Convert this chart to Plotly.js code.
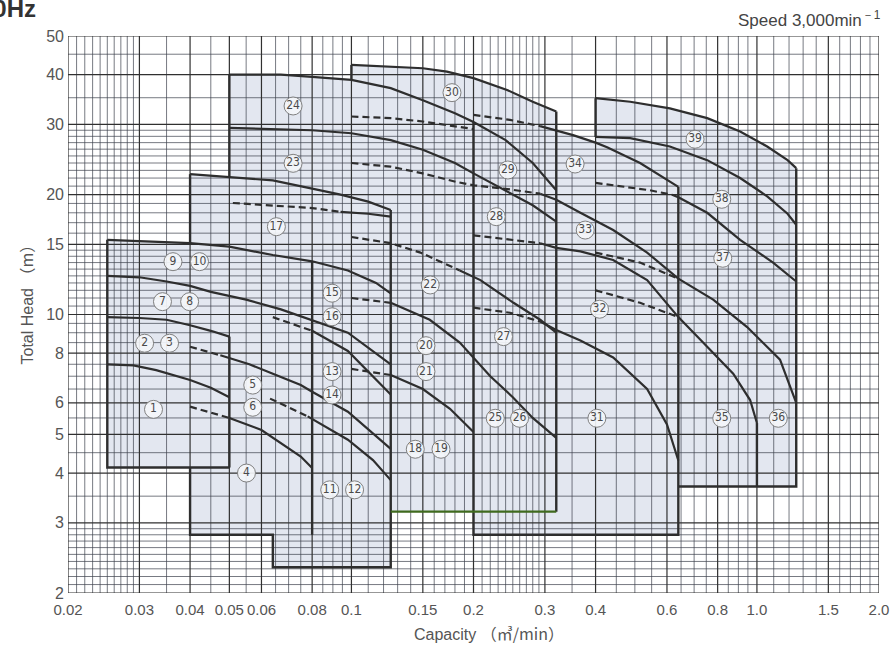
<!DOCTYPE html>
<html><head><meta charset="utf-8">
<script src="https://cdn.plot.ly/plotly-3.0.1.min.js"></script>
<style>html,body{margin:0;padding:0;background:#fff}#chart{width:891px;height:647px}</style>
</head><body><div id="chart"></div>
<script>
// ---------- axis ticks ----------
const xTickVals = [0.02,0.03,0.04,0.05,0.06,0.08,0.1,0.15,0.2,0.3,0.4,0.6,0.8,1.0,1.5,2.0];
const xTickText = ["0.02","0.03","0.04","0.05","0.06","0.08","0.1","0.15","0.2","0.3","0.4","0.6","0.8","1.0","1.5","2.0"];
const yTickVals = [2,3,4,5,6,8,10,15,20,30,40,50];
const yTickText = ["2","3","4","5","6","8","10","15","20","30","40","50"];
// ---------- log-paper grid ----------
const gridXMinor = [0.021,0.022,0.023,0.024,0.025,0.026,0.027,0.028,0.029,0.035,0.045,0.055,0.065,0.07,0.075,0.085,0.09,0.095,
  0.11,0.12,0.13,0.14,0.16,0.17,0.18,0.19,0.21,0.22,0.23,0.24,0.25,0.26,0.27,0.28,0.29,0.35,0.45,0.5,0.55,0.65,0.7,0.75,0.85,0.9,0.95,
  1.1,1.2,1.3,1.4,1.6,1.7,1.8,1.9];
const gridYMinor = [2.1,2.2,2.3,2.4,2.5,2.6,2.7,2.8,2.9,3.5,4.5,5.5,6.5,7,7.5,8.5,9,9.5,10.5,11,11.5,12,12.5,13,13.5,14,14.5,
  16,17,18,19,21,22,23,24,25,26,27,28,29,35,45];

// ---------- pump curves (capacity m3/min, head m) ----------
const t1Q = [0.025,0.04,0.05,0.064,0.08,0.098,0.115,0.125];
const t1H = [15.4,15.1,14.8,14.1,13.6,12.9,12.0,11.3];
const c78Q = [0.025,0.03,0.035,0.04,0.045,0.055,0.067,0.075,0.08,0.098,0.125];
const c78H = [12.5,12.4,12.1,11.8,11.4,10.9,10.3,9.9,9.7,9.0,7.5];
const c2Q = [0.025,0.03,0.035,0.04,0.045,0.05];
const c2H = [9.85,9.8,9.7,9.4,9.1,8.8];
const c1Q = [0.025,0.029,0.033,0.04,0.045,0.05];
const c1H = [7.5,7.45,7.25,6.85,6.55,6.2];
const d1Q = [0.04,0.05];
const d1H = [5.87,5.5];
const c4Q = [0.05,0.06,0.075,0.08];
const c4H = [5.5,5.13,4.4,4.12];
const d2Q = [0.04,0.0475];
const d2H = [8.3,7.9];
const c5Q = [0.0475,0.056,0.064,0.075,0.08,0.098,0.125];
const c5H = [7.9,7.5,7.1,6.65,6.4,5.7,4.6];
const d16Q = [0.064,0.08];
const d16H = [9.85,9.1];
const c16Q = [0.08,0.098,0.125];
const c16H = [9.1,8.1,6.3];
const d14Q = [0.063,0.078];
const d14H = [6.15,5.55];
const c14Q = [0.078,0.098,0.113,0.125];
const c14H = [5.55,4.85,4.31,3.84];
const r17Q = [0.04,0.05,0.064,0.08,0.094,0.11,0.125];
const r17H = [22.5,22.1,21.7,20.7,20.0,19.2,18.3];
const d17Q = [0.051,0.064,0.08,0.094];
const d17H = [19.05,18.8,18.5,18.1];
const c17Q = [0.094,0.11,0.125];
const c17H = [18.1,17.9,17.6];
const aQ = [0.05,0.067,0.08,0.1,0.125,0.15,0.18,0.2,0.24,0.28,0.32];
const aH = [40,40,39.5,38.8,37,34.5,32,30.4,27.4,24,20.5];
const bQ = [0.05,0.08,0.1,0.125,0.15,0.18,0.2,0.24,0.28,0.32];
const bH = [29.4,29.0,28.5,27.4,25.9,24.0,22.6,20.5,18.8,17.1];
const t30Q = [0.1,0.125,0.15,0.172,0.2,0.242,0.28,0.32];
const t30H = [42.3,41.9,41.5,40.7,39.2,36.6,34.2,32.3];
const d30Q = [0.1,0.125,0.15,0.172,0.2];
const d30H = [31.4,31.1,30.5,29.9,29.2];
const d34Q = [0.2,0.246,0.292];
const d34H = [31.7,30.8,29.7];
const c34Q = [0.292,0.32,0.352,0.4,0.427,0.515,0.64];
const c34H = [29.7,29.0,28.2,27.0,26.3,24.0,20.9];
const d33Q = [0.1,0.125,0.15,0.182,0.2,0.246,0.292];
const d33H = [24.0,23.5,22.6,21.5,21.1,20.6,20.1];
const c33Q = [0.292,0.32,0.367,0.442,0.536,0.64,0.78,0.946,1.14,1.25];
const c33H = [20.1,19.4,18.0,16.3,14.3,12.3,10.9,9.3,7.7,6.0];
const d36Q = [0.4,0.515,0.64];
const d36H = [14.3,13.5,12.3];
const d32Q = [0.2,0.246,0.292];
const d32H = [15.8,15.4,15.1];
const c32Q = [0.292,0.32,0.367,0.442,0.536,0.64,0.754,0.874,0.962,1.0];
const c32H = [15.1,14.7,14.4,13.7,12.2,9.85,8.3,7.1,6.1,5.34];
const d35Q = [0.4,0.515,0.64];
const d35H = [11.5,10.7,9.85];
const d37Q = [0.4,0.545,0.62,0.64];
const d37H = [21.4,20.5,19.95,19.7];
const c37Q = [0.64,0.754,0.909,1.096,1.25];
const c37H = [19.7,18.0,15.4,13.5,12.1];
const c38Q = [0.4,0.487,0.61,0.754,0.909,1.06,1.19,1.25];
const c38H = [27.9,27.7,26.4,24.4,22.0,19.8,17.9,16.8];
const t39Q = [0.4,0.487,0.61,0.754,0.909,1.06,1.19,1.25];
const t39H = [34.9,34.2,32.9,31.1,28.8,26.4,24.4,23.3];
const d31Q = [0.2,0.246,0.292];
const d31H = [10.4,10.1,9.6];
const c31Q = [0.292,0.32,0.367,0.442,0.536,0.6,0.64];
const c31H = [9.6,9.14,8.6,7.8,6.5,5.3,4.3];
const d22Q = [0.1,0.125,0.148,0.162,0.185];
const d22H = [15.65,15.1,14.3,13.7,12.9];
const c22Q = [0.185,0.208,0.251,0.292,0.32];
const c22H = [12.9,12.2,10.7,9.7,9.0];
const d20Q = [0.1,0.125];
const d20H = [11.0,10.7];
const c20Q = [0.125,0.156,0.185,0.2,0.22,0.25,0.28,0.32];
const c20H = [10.7,9.7,8.5,7.8,7.0,6.2,5.5,4.9];
const d21Q = [0.1,0.125];
const d21H = [7.3,7.05];
const c21Q = [0.125,0.15,0.175,0.2];
const c21H = [7.05,6.5,5.8,5.07];

// region outlines (capacity, head), null separates pieces
const edgeQ = [0.05,0.025,0.025,null, 0.04,0.04,null, 0.05,0.05,null, 0.1,0.1,null, 0.32,0.32,null, 0.4,0.4,null,
  0.64,1.25,1.25,null, 0.64,0.64,0.2,0.2,null, 0.125,0.125,0.064,0.064,0.04,0.04,null, 0.05,0.05,null, 0.08,0.08,null, 1.0,1.0];
const edgeH = [4.13,4.13,15.4,null, 15.1,22.5,null, 22.1,40,null, 38.8,42.3,null, 32.3,3.2,null, 27.9,34.9,null,
  3.7,3.7,23.3,null, 20.9,2.8,2.8,30.4,null, 18.3,2.32,2.32,2.8,2.8,4.13,null, 4.13,8.8,null, 2.8,13.6,null, 3.7,5.34];
const greenQ = [0.125,0.32];
const greenH = [3.2,3.2];

// model number labels
const labText = ["1","2","3","4","5","6","7","8","9","10","11","12","13","14","15","16","17","18","19","20",
  "21","22","23","24","25","26","27","28","29","30","31","32","33","34","35","36","37","38","39"];
const labQ = [0.0325,0.0309,0.0356,0.0551,0.0571,0.0571,0.0342,0.0399,0.0363,0.0422,0.0884,0.1018,0.0896,0.0896,0.0896,0.0896,0.0653,0.1437,0.1663,0.1527,
  0.1527,0.1564,0.0718,0.0718,0.2263,0.2598,0.2372,0.2276,0.2431,0.177,0.403,0.409,0.3772,0.3561,0.819,1.129,0.8237,0.819,0.7037];
const labH = [5.78,8.47,8.47,4.0,6.65,5.85,10.77,10.77,13.57,13.57,3.63,3.63,7.19,6.28,11.31,9.87,16.61,4.59,4.59,8.35,
  7.19,11.86,23.96,33.37,5.49,5.49,8.8,17.6,23.05,36.04,5.49,10.31,16.29,23.86,5.49,5.49,13.84,19.46,27.53];

// ---------- build traces ----------
const FILL = '#e3e7f0';
const INK = '#2e2e2e';
const traces = [];
function poly(q,h){ traces.push({x:q,y:h,type:'scatter',mode:'lines',fill:'toself',fillcolor:FILL,line:{width:0},hoverinfo:'skip',showlegend:false}); }
function seg(q,h,dash,color,w){ traces.push({x:q,y:h,type:'scatter',mode:'lines',line:{color:color||INK,width:w||2.2,dash:dash||'solid'},hoverinfo:'skip',showlegend:false}); }
function pick(q,h,lo,hi){ const a=[],b=[]; q.forEach((v,i)=>{ if(v>=lo-1e-9&&v<=hi+1e-9){a.push(v);b.push(h[i]);} }); return [a,b]; }

// shaded regions
let p = pick(t1Q,t1H,0.025,0.08); poly(p[0].concat([0.08,0.025]), p[1].concat([4.13,4.13]));
poly([0.04,0.08,0.08,0.04],[2.8,2.8,4.3,4.3]);
poly(r17Q.concat([0.125,0.064,0.064,0.04]), r17H.concat([2.32,2.32,2.8,2.8]));
p = pick(aQ,aH,0.05,0.2); poly(p[0].concat([0.2,0.05]), p[1].concat([3.2,3.2]));
poly(t30Q.concat([0.32,0.1]), t30H.concat([3.2,3.2]));
p = pick(c34Q,c34H,0.32,0.64); poly([0.2,0.2].concat(p[0]).concat([0.64]), [2.8,25].concat(p[1]).concat([2.8]));
poly(t39Q.concat([1.25,0.4]), t39H.concat([3.7,3.7]));

// grid
function gridV(vals,color,w){ const q=[],h=[]; vals.forEach(v=>{q.push(v,v,null);h.push(2,50,null);}); seg(q,h,'solid',color,w); }
function gridH(vals,color,w){ const q=[],h=[]; vals.forEach(v=>{q.push(0.02,2,null);h.push(v,v,null);}); seg(q,h,'solid',color,w); }
gridV(gridXMinor,'rgba(60,64,76,0.78)',0.9);
gridH(gridYMinor,'rgba(60,64,76,0.78)',0.9);
gridV(xTickVals,'#303030',1.2);
gridH(yTickVals,'#303030',1.2);

// solid curves
[[t1Q,t1H],[c78Q,c78H],[c2Q,c2H],[c1Q,c1H],[c4Q,c4H],[c5Q,c5H],[c16Q,c16H],[c14Q,c14H],[r17Q,r17H],[c17Q,c17H],[aQ,aH],[bQ,bH],
 [t30Q,t30H],[c34Q,c34H],[c33Q,c33H],[c32Q,c32H],[c37Q,c37H],[c38Q,c38H],[t39Q,t39H],[c31Q,c31H],[c22Q,c22H],[c20Q,c20H],[c21Q,c21H]]
 .forEach(c=>seg(c[0],c[1],'solid',INK,2.2));
// dashed curves
[[d1Q,d1H],[d2Q,d2H],[d16Q,d16H],[d14Q,d14H],[d17Q,d17H],[d30Q,d30H],[d34Q,d34H],[d33Q,d33H],[d36Q,d36H],[d32Q,d32H],
 [d35Q,d35H],[d37Q,d37H],[d31Q,d31H],[d22Q,d22H],[d20Q,d20H],[d21Q,d21H]]
 .forEach(c=>seg(c[0],c[1],'7px,4px',INK,2.2));
seg(edgeQ,edgeH,'solid',INK,2.4);
seg(greenQ,greenH,'solid','#3f6a1e',2.4);

// labels
traces.push({x:labQ,y:labH,text:labText,type:'scatter',mode:'markers+text',textposition:'middle center',
  marker:{symbol:'circle',size:18,color:'rgba(244,246,250,0.92)',line:{color:'#808080',width:1}},
  textfont:{family:'Liberation Sans Narrow, DejaVu Sans Condensed, Liberation Sans, sans-serif',size:12,color:'#4a4a4a'},
  hoverinfo:'skip',showlegend:false});

const layout = {
  width:891,height:647,margin:{l:68,r:12,t:36,b:54},
  paper_bgcolor:'#ffffff',plot_bgcolor:'#ffffff',showlegend:false,
  xaxis:{type:'log',range:[Math.log10(0.02),Math.log10(2)],tickvals:xTickVals,ticktext:xTickText,showgrid:false,zeroline:false,
    ticks:'',showline:false,ticklabelstandoff:6,tickfont:{family:'Liberation Sans, Arial, sans-serif',size:15,color:'#555'}},
  yaxis:{type:'log',range:[Math.log10(2),Math.log10(50)],tickvals:yTickVals,ticktext:yTickText,showgrid:false,zeroline:false,
    ticks:'',showline:false,ticklabelstandoff:3,tickfont:{family:'Liberation Sans, Arial, sans-serif',size:16,color:'#555'}},
  annotations:[
    {text:'Capacity <span style="font-family:Noto Sans CJK JP">（㎥/min）</span>',xref:'paper',yref:'paper',x:0.5,xshift:15,y:0,yshift:-40,xanchor:'center',yanchor:'middle',showarrow:false,
     font:{family:'Liberation Sans, Noto Sans CJK JP, sans-serif',size:16,color:'#555'}},
    {text:'Total Head <span style="font-family:Noto Sans CJK JP">（m）</span>',xref:'paper',yref:'paper',x:0,xshift:-43,y:0.5,yshift:14,textangle:-90,xanchor:'center',yanchor:'middle',showarrow:false,
     font:{family:'Liberation Sans, Noto Sans CJK JP, sans-serif',size:16,color:'#555'}},
    {text:'Speed 3,000min<sup>－1</sup>',xref:'paper',yref:'paper',x:1,xshift:4,y:1,yshift:17,xanchor:'right',yanchor:'middle',showarrow:false,
     font:{family:'Liberation Sans, Arial, sans-serif',size:17,color:'#444'}},
    {text:'<b>50Hz</b>',xref:'paper',yref:'paper',x:0,xshift:-30,y:1,yshift:28,xanchor:'right',yanchor:'middle',showarrow:false,
     font:{family:'Liberation Sans, Arial, sans-serif',size:24,color:'#333'}}
  ]
};
Plotly.newPlot('chart',traces,layout,{displayModeBar:false,staticPlot:true});
</script></body></html>
